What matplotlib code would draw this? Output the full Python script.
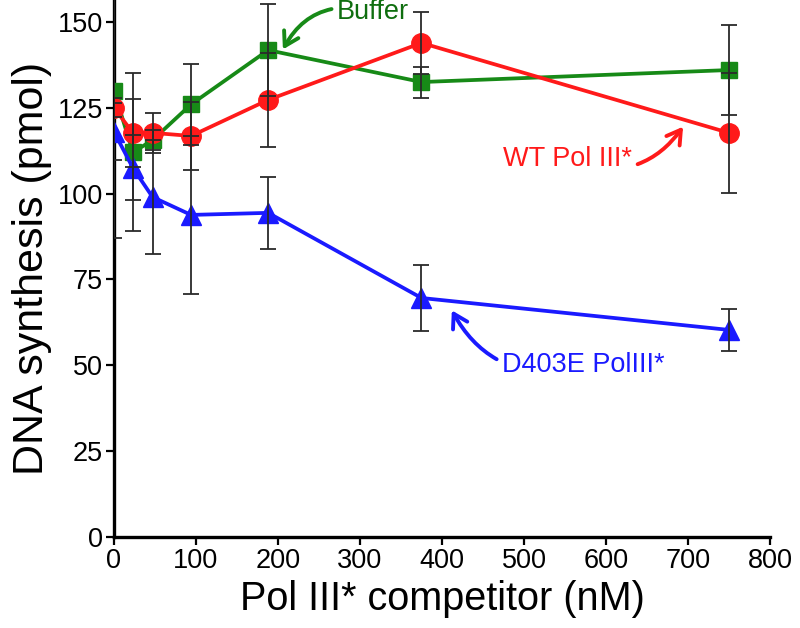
import matplotlib
matplotlib.use('Agg')
import matplotlib.pyplot as plt

plt.rcParams['font.family'] = ['Liberation Sans', 'DejaVu Sans']

# competitor concentrations (nM)
conc = [0, 23, 47, 94, 188, 375, 750]

# DNA synthesis (pmol) and error
buffer_y = [130, 112, 115.6, 126, 141.8, 132.5, 136]
buffer_err = [43, 23, 3, 11.8, 13.4, 4.5, 13]
wt_y = [125, 117.7, 117.7, 116.8, 127.3, 143.9, 117.7]
wt_err = [2.8, 10, 5.8, 10, 13.7, 9, 17.5]
mut_y = [118, 107.5, 99, 93.8, 94.4, 69.6, 60.3]
mut_err = [8.3, 9.5, 16.6, 23, 10.5, 9.5, 6]

green = '#178a17'
red = '#ff1a1a'
blue = '#1a1aff'

fig = plt.figure(figsize=(8, 6.28), dpi=100)
ax = fig.add_axes([0.1425, 0.145, 0.82, 0.855])

series = [
    (buffer_y, buffer_err, green, 's', 12),
    (wt_y, wt_err, red, 'o', 14),
    (mut_y, mut_err, blue, '^', 14),
]
for y, err, col, mk, ms in series:
    ax.plot(conc, y, color=col, lw=2.7, marker=mk, ms=ms, mec=col, zorder=3)
for y, err, col, mk, ms in series:
    ax.errorbar(conc, y, yerr=err, fmt='none', ecolor='#2a2a2a',
                elinewidth=1.3, capsize=5.5, capthick=1.3, zorder=4)

# labels with curved arrows
arrow = '->, head_length=0.5, head_width=0.3'
ax.annotate('Buffer', xy=(206, 142), xytext=(272, 153), color='#0f6e0f',
            fontsize=19.5, va='center', ha='left',
            arrowprops=dict(arrowstyle=arrow, color=green, lw=2.8,
                            connectionstyle='arc3,rad=0.4',
                            shrinkA=2, shrinkB=0))
ax.annotate('WT Pol III*', xy=(694, 119.5), xytext=(632, 110), color=red,
            fontsize=19.5, va='center', ha='right',
            arrowprops=dict(arrowstyle=arrow, color=red, lw=2.8,
                            connectionstyle='arc3,rad=0.4',
                            shrinkA=2, shrinkB=0))
ax.annotate('D403E PolIII*', xy=(412, 66), xytext=(473, 50), color=blue,
            fontsize=19.5, va='center', ha='left',
            arrowprops=dict(arrowstyle=arrow, color=blue, lw=2.8,
                            connectionstyle='arc3,rad=-0.4',
                            shrinkA=2, shrinkB=0))

ax.set_xlim(0, 800)
ax.set_ylim(0, 156.4)
ax.set_xticks(range(0, 801, 100))
ax.set_yticks([0, 25, 50, 75, 100, 125, 150])
ax.spines['top'].set_visible(False)
ax.spines['right'].set_visible(False)
ax.spines['left'].set_linewidth(2.4)
ax.spines['bottom'].set_linewidth(2.4)
ax.tick_params(length=6, width=1.6, labelsize=19.5, direction='out', pad=2)
ax.set_xlabel('Pol III* competitor (nM)', fontsize=28.5, labelpad=4)
ax.set_ylabel('DNA synthesis (pmol)', fontsize=31, labelpad=4)

fig.savefig('out.png', dpi=100)
